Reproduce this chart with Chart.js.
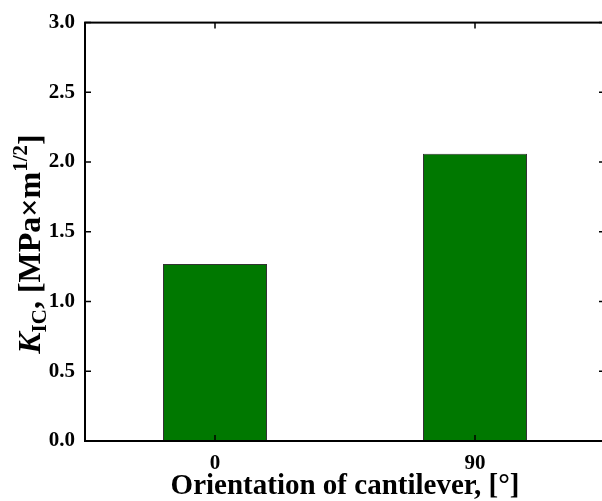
<!DOCTYPE html>
<html>
<head>
<meta charset="utf-8">
<script src="https://cdn.jsdelivr.net/npm/chart.js@4.4.0/dist/chart.umd.min.js"></script>
<style>
  html, body { margin: 0; padding: 0; background: #fff; overflow: hidden; }
  #wrap { width: 610px; height: 501px; position: relative; }
</style>
</head>
<body>
<div id="wrap"><canvas id="bars"></canvas></div>
<script>
const orientations = ['0', '90'];
const kicValues = [1.27, 2.06];
const yTicks = [0, 0.5, 1.0, 1.5, 2.0, 2.5, 3.0];

const serif = "'Liberation Serif', 'Times New Roman', serif";

// frame round the plot with inward ticks on all four sides
const framePlugin = {
    id: 'frame',
    afterDraw(chart) {
        const ctx = chart.ctx;
        const area = chart.chartArea;
        const xScale = chart.scales.x;
        const yScale = chart.scales.y;
        const tickLen = 6;
        ctx.save();
        ctx.strokeStyle = '#000';
        ctx.lineWidth = 1.5;
        for (let i = 0; i < yTicks.length; i++) {
            const py = yScale.getPixelForValue(yTicks[i]);
            ctx.beginPath();
            ctx.moveTo(area.left, py);
            ctx.lineTo(area.left + tickLen, py);
            ctx.moveTo(area.right, py);
            ctx.lineTo(area.right - tickLen, py);
            ctx.stroke();
        }
        for (let i = 0; i < orientations.length; i++) {
            const px = xScale.getPixelForValue(i);
            ctx.beginPath();
            ctx.moveTo(px, area.bottom);
            ctx.lineTo(px, area.bottom - tickLen);
            ctx.moveTo(px, area.top);
            ctx.lineTo(px, area.top + tickLen);
            ctx.stroke();
        }
        ctx.lineWidth = 2;
        ctx.strokeRect(area.left, area.top, area.right - area.left, area.bottom - area.top);
        ctx.restore();
    }
};

// y title: K italic, IC subscript, 1/2 superscript
const yTitlePlugin = {
    id: 'ytitle',
    afterDraw(chart) {
        const ctx = chart.ctx;
        const big = 32, small = 21;
        const parts = [
            {t: 'K', font: 'italic bold ' + big + 'px ' + serif, dy: 0},
            {t: 'IC', font: 'bold ' + small + 'px ' + serif, dy: 6},
            {t: ', [MPa×m', font: 'bold ' + big + 'px ' + serif, dy: 0},
            {t: '1/2', font: 'bold ' + small + 'px ' + serif, dy: -13},
            {t: ']', font: 'bold ' + big + 'px ' + serif, dy: 0}
        ];
        ctx.save();
        let total = 0;
        parts.forEach(p => { ctx.font = p.font; p.w = ctx.measureText(p.t).width; total += p.w; });
        ctx.translate(40, 244);
        ctx.rotate(-Math.PI / 2);
        ctx.fillStyle = '#000';
        ctx.textBaseline = 'alphabetic';
        let x = -total / 2;
        parts.forEach(p => {
            ctx.font = p.font;
            ctx.fillText(p.t, x, p.dy);
            x += p.w;
        });
        ctx.restore();
    }
};

const ctx = document.getElementById('bars').getContext('2d');
new Chart(ctx, {
    type: 'bar',
    data: {
        labels: orientations,
        datasets: [{
            data: kicValues,
            backgroundColor: '#007800',
            borderColor: '#333333',
            borderWidth: 1,
            categoryPercentage: 1.0,
            barPercentage: 0.4
        }]
    },
    options: {
        responsive: true,
        maintainAspectRatio: false,
        animation: false,
        layout: { padding: { top: 21, right: 5, left: 0, bottom: 0 } },
        plugins: {
            legend: { display: false },
            tooltip: { enabled: false }
        },
        scales: {
            x: {
                grid: { display: false, drawTicks: false },
                border: { display: false },
                ticks: {
                    color: '#000',
                    padding: 10,
                    font: { family: serif, size: 21, weight: 'bold' }
                },
                title: {
                    display: true,
                    text: 'Orientation of cantilever, [°]',
                    color: '#000',
                    padding: { top: 0, bottom: 0 },
                    font: { family: serif, size: 29, weight: 'bold', lineHeight: 1 }
                },
                afterFit(scale) { scale.height = 60; }
            },
            y: {
                min: 0,
                max: 3,
                grid: { display: false, drawTicks: false },
                border: { display: false },
                ticks: {
                    stepSize: 0.5,
                    color: '#000',
                    padding: 10,
                    font: { family: serif, size: 21, weight: 'bold' },
                    callback: v => v.toFixed(1)
                },
                afterFit(scale) { scale.width = 85; }
            }
        }
    },
    plugins: [framePlugin, yTitlePlugin]
});
</script>
</body>
</html>
